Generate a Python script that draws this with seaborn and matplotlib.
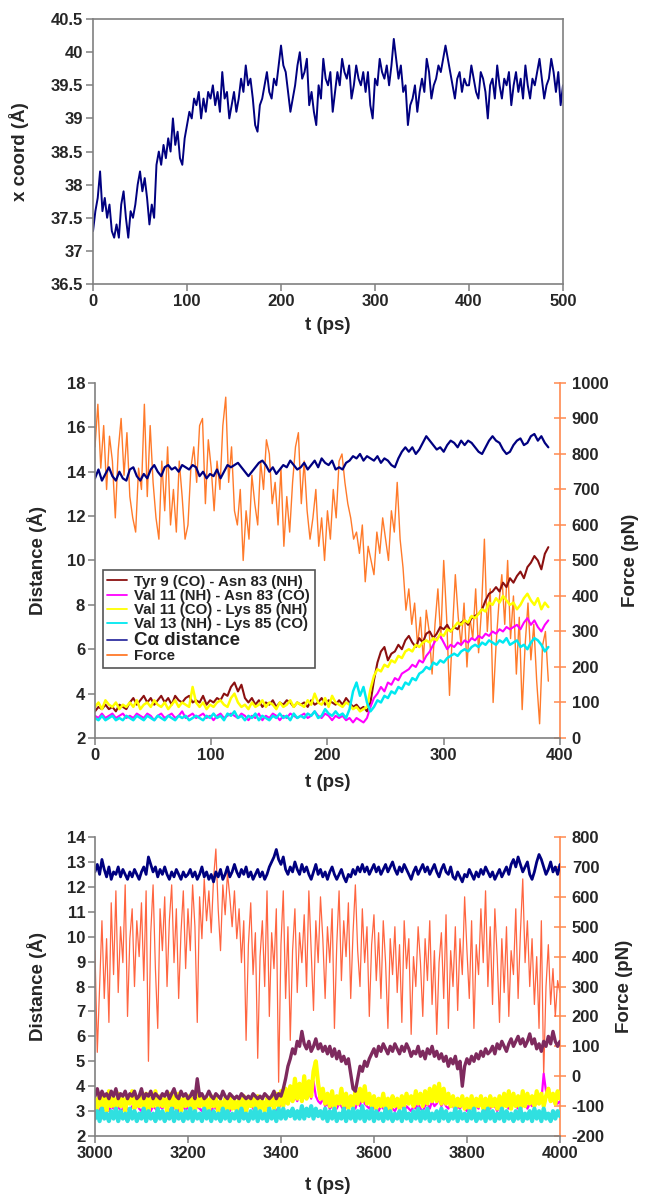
import numpy as np
import matplotlib
matplotlib.use('Agg')
import matplotlib.pyplot as plt
import seaborn as sns
from matplotlib.ticker import FuncFormatter, MultipleLocator
from matplotlib.lines import Line2D

# ---------------- Panel 1: x coordinate vs time (0-500 ps) ----------------
xcoord = [
    37.3, 37.6, 37.8, 38.2, 37.6, 37.8, 37.5, 37.7, 37.3, 37.2,
    37.4, 37.2, 37.7, 37.9, 37.5, 37.2, 37.6, 37.5, 37.7, 38.0,
    38.2, 37.9, 38.1, 37.8, 37.4, 37.7, 37.5, 38.3, 38.5, 38.3,
    38.6, 38.4, 38.7, 38.5, 39.0, 38.6, 38.8, 38.4, 38.3, 38.7,
    38.9, 39.1, 39.0, 39.3, 39.2, 39.4, 39.0, 39.3, 39.1, 39.4,
    39.3, 39.5, 39.2, 39.4, 39.1, 39.7, 39.3, 39.4, 39.0, 39.2,
    39.4, 39.1, 39.3, 39.6, 39.4, 39.8, 39.5, 39.6, 39.3, 38.9,
    38.8, 39.2, 39.3, 39.5, 39.7, 39.4, 39.3, 39.6, 39.5, 39.8,
    40.1, 39.8, 39.7, 39.4, 39.1, 39.3, 39.5, 39.8, 40.0, 39.6,
    39.7, 39.9, 39.2, 39.4, 39.1, 38.9, 39.5, 39.3, 39.9, 39.6,
    39.5, 39.7, 39.1, 39.4, 39.7, 39.5, 39.9, 39.7, 39.6, 39.8,
    39.3, 39.5, 39.8, 39.6, 39.5, 39.7, 39.4, 39.7, 39.2, 39.0,
    39.6, 39.5, 39.9, 39.7, 39.6, 39.8, 39.5, 39.8, 40.2, 39.9,
    39.6, 39.8, 39.4, 39.5, 38.9, 39.2, 39.3, 39.5, 39.1, 39.4,
    39.6, 39.4, 39.9, 39.7, 39.3, 39.5, 39.6, 39.8, 39.7, 39.9,
    40.1, 39.9, 39.7, 39.5, 39.3, 39.6, 39.7, 39.4, 39.6, 39.5,
    39.5, 39.8, 39.6, 39.4, 39.3, 39.7, 39.6, 39.4, 39.0, 39.5,
    39.6, 39.3, 39.8, 39.5, 39.3, 39.6, 39.5, 39.7, 39.2, 39.5,
    39.7, 39.4, 39.6, 39.3, 39.8, 39.5, 39.3, 39.6, 39.5, 39.7,
    39.9, 39.6, 39.3, 39.5, 39.6, 39.9, 39.7, 39.4, 39.7, 39.2,
    39.5]

# ---------------- Panel 2: 0-390 ps ----------------
p2_ca = [
    13.7, 14.1, 13.6, 13.9, 14.2, 13.8, 13.6, 14.0, 13.7, 13.6,
    14.1, 14.2, 13.8, 13.6, 13.9, 13.7, 14.1, 14.3, 14.0, 13.8,
    14.2, 14.3, 14.1, 14.2, 14.0, 14.3, 14.2, 14.1, 14.3, 14.2,
    13.8, 14.0, 13.7, 13.9, 13.8, 14.1, 13.7, 14.0, 14.3, 14.2,
    14.3, 14.4, 14.2, 14.0, 13.8, 14.0, 14.2, 14.4, 14.5, 14.3,
    14.0, 14.2, 13.9, 14.1, 14.3, 14.2, 14.5, 14.3, 14.1, 14.2,
    14.4, 14.1, 14.3, 14.5, 14.2, 14.6, 14.4, 14.3, 14.5, 14.1,
    14.2, 14.1, 14.4, 14.5, 14.7, 14.6, 14.8, 14.5, 14.7, 14.6,
    14.5, 14.7, 14.4, 14.6, 14.5, 14.3, 14.2, 14.6, 14.9, 15.1,
    14.9, 15.1, 14.8, 15.0, 15.3, 15.6, 15.4, 15.2, 15.0, 15.1,
    14.9, 15.2, 15.4, 15.3, 15.1, 15.4, 15.2, 15.4, 15.3, 15.1,
    14.9, 14.8, 15.1, 15.4, 15.6, 15.4, 15.3, 15.0, 14.8, 14.9,
    15.2, 15.4, 15.5, 15.2, 15.3, 15.6, 15.7, 15.4, 15.6, 15.3,
    15.1]

p2_tyr9 = [
    3.2, 3.4, 3.3, 3.5, 3.3, 3.4, 3.2, 3.5, 3.4, 3.3,
    3.6, 3.8, 3.5, 3.7, 3.9, 3.6, 3.8, 3.5, 3.7, 3.9,
    3.6, 3.8, 3.5, 3.9, 3.7, 3.6, 3.8, 3.9, 3.6, 3.7,
    3.6, 3.9, 3.5, 3.7, 3.6, 3.8, 3.7, 4.0, 3.9, 4.3,
    4.5, 4.1, 4.4, 3.8, 3.6, 3.8, 3.5, 3.7, 3.4, 3.6,
    3.5, 3.7, 3.4, 3.6, 3.5, 3.7, 3.6, 3.4, 3.6, 3.5,
    3.6, 3.4, 3.7, 3.5, 3.6, 3.8, 3.5, 3.7, 3.6, 3.5,
    3.7, 3.5, 3.8, 3.6, 3.4, 3.5, 3.3, 3.4, 3.2, 3.6,
    4.6, 5.4, 5.9, 6.1, 5.5, 5.8, 5.9, 6.2, 6.0, 6.4,
    6.6, 6.3, 6.1, 6.5, 6.3, 6.7, 6.8, 6.5, 6.7, 7.0,
    6.9, 7.1, 6.8, 7.0, 6.9, 7.2, 7.3, 7.1, 7.4, 7.5,
    7.6, 7.8, 8.2, 8.5, 8.6, 8.8, 8.6, 9.0, 8.8, 9.2,
    9.0, 9.3, 9.5, 9.2, 9.7, 9.9, 10.2, 10.0, 9.6, 10.3,
    10.6]

p2_val11nh = [
    3.0, 2.9, 3.1, 2.9, 3.0, 3.1, 2.9, 3.0, 3.1, 2.9,
    3.0, 2.9, 3.1, 3.0, 2.9, 3.1, 3.0, 2.8, 3.0, 3.1,
    2.9, 3.0, 3.1, 2.9, 3.0, 3.2, 2.9, 3.0, 3.1, 2.9,
    3.0, 3.1, 2.9, 3.0, 2.8, 3.0, 3.1, 2.9, 3.0, 3.1,
    3.0, 2.9, 3.1, 3.0, 2.8, 3.0, 2.9, 3.1, 2.8, 3.0,
    2.9, 3.1, 3.0, 2.8, 3.0, 2.9, 3.1, 3.0, 2.9, 3.0,
    3.1, 2.9, 3.0, 3.2, 3.0, 2.9, 3.1, 3.0, 2.8, 3.0,
    2.9, 3.0, 2.8, 2.9, 2.7, 2.9, 2.8, 2.7, 2.9, 3.4,
    3.8, 4.0, 4.3, 4.1, 4.5, 4.4, 4.7, 4.6, 4.9, 5.0,
    5.1, 5.3, 5.2, 5.5, 5.4, 5.7, 5.9, 6.2, 6.5, 6.6,
    6.3, 6.0, 6.2, 6.1, 6.3, 6.2, 6.4, 6.3, 6.5, 6.4,
    6.6, 6.5, 6.7, 6.6, 6.8, 6.7, 6.9, 6.8, 7.0, 6.9,
    7.0, 7.1, 6.9, 7.2, 7.4, 7.1, 7.3, 7.0, 6.8, 7.1,
    7.3]

p2_val11co = [
    3.4, 3.6, 3.3, 3.7, 3.5, 3.4, 3.6, 3.3, 3.5, 3.4,
    3.6, 3.4, 3.7, 3.3, 3.5, 3.6, 3.4, 3.7, 3.5, 3.4,
    3.6, 3.3, 3.5, 3.7, 3.4, 3.6, 3.5, 3.4, 4.3, 3.6,
    3.4, 3.6, 3.3, 3.5, 3.4, 3.6, 3.7, 3.5, 3.4, 3.8,
    4.0, 3.6, 3.4, 3.5, 3.3, 3.6, 3.4, 3.5, 3.7, 3.4,
    3.6, 3.5, 3.3, 3.6, 3.4, 3.5, 3.7, 3.4, 3.6, 3.5,
    3.4, 3.7, 3.5, 4.0, 3.6, 3.5, 3.8, 3.4, 3.9, 3.6,
    3.5, 3.4, 3.6, 3.5, 3.3, 3.4, 3.2, 3.3, 3.4, 4.2,
    4.8, 5.1, 5.0, 5.3, 5.2, 5.5, 5.4, 5.7, 5.6, 5.9,
    6.0, 5.9, 6.2, 6.1, 6.3, 6.4, 6.3, 6.5, 6.4, 6.7,
    6.6, 6.9, 6.8, 7.0, 7.2, 7.1, 7.3, 7.2, 7.5, 7.4,
    7.6, 7.8, 7.7, 8.1, 8.0, 8.3, 8.1, 8.4, 8.2, 8.0,
    8.1, 7.8, 8.0, 8.3, 8.5, 8.2, 8.0, 8.3, 7.8, 8.1,
    7.9]

p2_val13 = [
    2.9, 2.8, 3.0, 2.8, 2.9, 3.0, 2.8, 2.9, 2.8, 3.0,
    2.9, 2.8, 3.0, 2.9, 2.8, 3.0, 2.9, 2.8, 3.0, 2.9,
    2.8, 3.0, 2.9, 2.8, 3.0, 2.9, 3.0, 2.8, 2.9, 3.0,
    2.9, 2.8, 3.0, 2.9, 3.1, 2.9, 3.0, 2.8, 3.1, 3.0,
    3.2, 2.9, 3.0, 2.8, 3.0, 2.9, 3.1, 2.8, 3.0, 2.9,
    2.8, 3.0, 2.9, 3.1, 2.9, 3.0, 2.8, 3.1, 2.9, 3.0,
    2.9, 3.1, 3.0, 3.2, 2.9, 3.0, 3.3, 3.1, 3.0, 3.2,
    3.0, 3.1, 2.9, 3.3, 4.1, 4.5, 3.9, 4.3, 3.6, 3.2,
    3.4, 3.7, 3.6, 3.9, 3.8, 4.1, 4.0, 4.3, 4.2, 4.5,
    4.4, 4.7, 4.6, 4.9, 5.0, 5.2, 5.1, 5.4, 5.3, 5.5,
    5.4, 5.6, 5.7, 5.8, 5.7, 5.9, 6.0, 5.9, 6.1, 6.2,
    6.1, 6.3, 6.2, 6.4, 6.3, 6.2, 6.4, 6.3, 6.5, 6.2,
    6.3, 6.4, 6.1, 6.2, 6.0, 6.3, 6.5, 6.4, 6.2, 5.9,
    6.1]

p2_force = [
    820, 940, 760, 880, 700, 850, 780, 620, 810, 900,
    740, 860, 680, 620, 580, 760, 700, 940, 680, 880,
    720, 620, 560, 780, 640, 820, 600, 700, 580, 780,
    680, 560, 600, 760, 820, 720, 880, 900, 660, 840,
    760, 640, 780, 700, 880, 960, 720, 820, 640, 600,
    700, 500, 640, 560, 740, 660, 600, 780, 700, 840,
    800, 660, 720, 600, 760, 540, 680, 580, 720, 820,
    860, 660, 780, 640, 560, 620, 700, 540, 620, 500,
    640, 560, 700, 620, 780, 800, 720, 660, 620, 560,
    580, 520, 600, 440, 540, 500, 460, 580, 520, 620,
    560, 500, 640, 580, 720, 560, 480, 360, 420, 320,
    380, 260, 340, 220, 360, 300, 180, 320, 420, 280,
    500, 340, 120, 300, 460, 340, 260, 380, 200, 340,
    280, 420, 240, 360, 560, 300, 420, 100, 260, 380,
    460, 320, 500, 280, 400, 180, 340, 80, 260, 380,
    220, 320, 160, 40, 260, 300, 160]

p2_labels = ["Tyr 9 (CO) - Asn 83 (NH)", "Val 11 (NH) - Asn 83 (CO)",
             "Val 11 (CO) - Lys 85 (NH)", "Val 13 (NH) - Lys 85 (CO)",
             "C\u03b1 distance", "Force"]

# ---------------- Panel 3: 3000-4000 ps ----------------
p3_ca = [
    12.6, 12.9, 12.5, 13.1, 12.7, 12.4, 12.8, 12.3, 12.6, 12.5,
    12.8, 12.4, 12.7, 12.5, 12.3, 12.6, 12.4, 12.7, 12.5, 12.3,
    12.6, 12.8, 12.5, 13.2, 12.9, 12.6, 12.8, 12.4, 12.7, 12.5,
    12.8, 12.5, 12.3, 12.6, 12.4, 12.7, 12.5, 12.3, 12.6, 12.4,
    12.5, 12.7, 12.4, 12.6, 12.3, 12.5, 12.8, 12.4, 12.6, 12.3,
    12.5, 12.2, 12.6, 12.4, 12.7, 12.3, 12.5, 12.8, 12.4, 12.6,
    12.9, 12.6, 12.4, 12.7, 12.5, 12.8, 12.4, 12.6, 12.3, 12.5,
    12.7, 12.4, 12.6, 12.3, 12.5, 12.8, 13.0, 13.2, 13.5, 13.1,
    12.9, 13.2, 12.7, 12.5, 12.8, 12.6, 13.0, 12.7, 12.5, 12.9,
    12.6, 12.8, 12.5, 12.3, 12.6, 12.9, 12.5, 12.7, 12.4, 12.6,
    12.3, 12.6, 12.8, 12.5, 12.3, 12.5, 12.7, 12.4, 12.2, 12.5,
    12.4, 12.7, 12.5, 12.8, 12.6, 12.9, 12.6, 12.8, 12.5, 12.7,
    12.9, 12.6, 12.8, 12.5, 12.7, 12.9, 12.6, 12.8, 13.0, 12.7,
    12.5, 12.8, 12.6, 12.9, 12.7, 12.5, 12.3, 12.6, 12.8, 12.5,
    12.7, 12.9, 12.6, 12.8, 12.5, 12.7, 12.9, 12.6, 12.4, 12.7,
    12.9, 12.6, 12.5, 12.8, 12.4, 12.3, 12.6, 12.4, 12.2, 12.5,
    12.4, 12.7, 12.5, 12.3, 12.6, 12.4, 12.7, 12.5, 12.8, 12.6,
    12.4, 12.6, 12.3, 12.5, 12.7, 12.4, 12.6, 12.8, 12.5, 12.9,
    13.1, 12.8, 13.2, 12.9, 12.6, 12.8, 13.0, 12.5, 12.3, 12.6,
    13.0, 13.3, 13.1, 12.8, 12.5, 12.7, 13.0, 12.6, 12.8, 12.5,
    12.9]

p3_force = [
    420, 80, 300, 520, 260, 460, 180, 580, 340, 620,
    280, 500, 380, 640, 200, 460, 560, 300, 520, 400,
    580, 320, 620, 50, 480, 640, 360, 160, 560, 420,
    600, 300, 520, 640, 380, 560, 260, 480, 620, 360,
    560, 420, 640, 500, 180, 600, 460, 660, 520, 620,
    480, 660, 760, 560, 420, 640, 540, 680, 600, 500,
    620, 460, 560, 380, 520, 120, 440, 580, 340, 480,
    60, 400, 520, 300, 620, 200, 480, 360, 560, -20,
    440, 620, 260, 500, 120, 420, 560, 280, 480, 380,
    540, 300, 620, 420, 220, 520, 380, 600, 460, 260,
    500, 380, 560, 160, 440, 620, 320, 520, 400, 580,
    260, 480, 640, 420, 300, 560, 380, 500, 200, 440,
    540, 320, 480, 260, 520, 380, 160, 460, 340, 500,
    280, 440, 180, 520, 360, 460, 140, 400, 300, 500,
    380, 200, 460, 320, 520, 240, 420, 140, 380, 480,
    260, 540, 160, 420, 300, 500, 220, 460, 340, 600,
    420, 260, 520, 160, 440, 340, 560, 380, 620, 300,
    500, 240, 560, 400, 180, 460, 280, 500, 200, 420,
    340, 560, 260, 480, 660, 380, 520, 300, 460, 240,
    400, 160, 520, 0, 300, 440, 240, 360, 200, 320,
    280]

p3_tyr9 = [
    3.6, 3.9, 3.5, 3.8, 3.6, 3.7, 3.5, 3.8, 3.6, 3.9,
    3.5, 3.7, 3.6, 3.8, 3.5, 3.7, 3.6, 3.8, 3.5, 3.6,
    3.9, 3.5, 3.7, 3.6, 3.8, 3.5, 3.7, 3.6, 3.5, 3.7,
    3.6, 3.8, 3.5, 3.7, 3.9, 3.6, 3.5, 3.8, 3.6, 3.7,
    3.5, 3.6, 3.8, 3.5, 4.3, 3.6, 3.7, 3.5, 3.6, 3.8,
    3.6, 3.5, 3.7, 3.6, 3.5, 3.8, 3.6, 3.5, 3.7, 3.6,
    3.5, 3.6, 3.5, 3.7, 3.6, 3.5, 3.6, 3.5, 3.7, 3.6,
    3.5, 3.6, 3.5, 3.7, 3.6, 3.5, 3.6, 3.8, 3.5, 3.7,
    3.6, 3.9, 4.3, 4.8, 5.1, 5.5, 5.3, 5.8, 5.6, 6.2,
    5.7, 5.5, 5.8, 5.4, 5.6, 5.9, 5.5, 5.7, 5.4, 5.6,
    5.3, 5.6, 5.2, 5.5, 5.1, 5.4, 5.0, 5.2, 4.9, 5.1,
    4.5, 3.9, 3.8, 4.3, 4.8, 4.6, 5.0, 4.8, 5.1, 5.3,
    5.5, 5.2, 5.6, 5.4, 5.7, 5.5, 5.3, 5.6, 5.4, 5.7,
    5.5, 5.3, 5.6, 5.4, 5.7, 5.5, 5.2, 5.4, 5.3, 5.6,
    5.2, 5.4, 5.1, 5.5, 5.3, 5.6, 5.2, 5.4, 5.1, 5.3,
    5.0, 5.2, 4.8, 5.1, 4.9, 5.2, 4.7, 5.0, 4.0, 4.8,
    5.1, 4.9, 5.2, 5.0, 5.3, 5.1, 5.4, 5.2, 5.5, 5.3,
    5.4, 5.6, 5.3, 5.7, 5.5, 5.8, 5.6, 5.4, 5.7, 5.9,
    5.6, 5.8, 6.0, 5.7, 5.9, 5.6, 5.8, 6.1, 5.7, 5.9,
    5.5, 5.7, 5.4, 5.8, 5.6, 6.0, 5.7, 6.2, 5.8, 5.6,
    5.8]

p3_val11nh = [
    3.1, 3.2, 3.0, 3.3, 3.1, 3.2, 3.0, 3.2, 3.1, 3.3,
    3.2, 3.0, 3.1, 3.3, 3.1, 3.0, 3.2, 3.1, 3.3, 3.1,
    3.0, 3.2, 3.1, 3.3, 3.0, 3.2, 3.1, 3.0, 3.2, 3.1,
    3.3, 3.1, 3.0, 3.2, 3.1, 3.3, 3.0, 3.1, 3.2, 3.0,
    3.2, 3.1, 3.3, 3.0, 3.2, 3.1, 3.0, 3.3, 3.1, 3.2,
    3.0, 3.2, 3.1, 3.3, 3.1, 3.0, 3.2, 3.1, 3.0, 3.2,
    3.1, 3.3, 3.0, 3.2, 3.1, 3.0, 3.2, 3.3, 3.1, 3.0,
    3.2, 3.1, 3.3, 3.0, 3.2, 3.1, 3.3, 3.2, 3.0, 3.1,
    3.3, 3.2, 3.4, 3.3, 3.5, 3.4, 3.6, 3.4, 3.7, 3.5,
    3.9, 3.6, 3.8, 3.5, 4.2, 3.6, 3.4, 3.3, 3.5, 3.2,
    3.3, 3.1, 3.2, 3.4, 3.1, 3.3, 3.2, 3.0, 3.2, 3.1,
    3.3, 3.2, 3.1, 3.4, 3.2, 3.6, 3.3, 3.2, 3.1, 3.3,
    3.1, 3.2, 3.0, 3.2, 3.1, 3.3, 3.0, 3.2, 3.1, 3.0,
    3.2, 3.1, 3.3, 3.0, 3.2, 3.1, 3.0, 3.2, 3.1, 3.3,
    3.1, 3.0, 3.2, 3.3, 3.1, 3.4, 3.2, 3.3, 3.5, 3.2,
    3.4, 3.2, 3.1, 3.3, 3.2, 3.0, 3.2, 3.1, 3.3, 3.1,
    3.0, 3.2, 3.1, 3.3, 3.2, 3.1, 3.6, 3.2, 3.0, 3.2,
    3.1, 3.3, 3.2, 3.0, 3.2, 3.1, 3.3, 3.2, 3.1, 3.2,
    3.4, 3.2, 3.1, 3.3, 3.2, 3.4, 3.1, 3.3, 3.2, 3.5,
    3.3, 3.6, 3.4, 4.5, 3.8, 3.9, 3.5, 3.4, 3.6, 3.3,
    3.4]

p3_val11co = [
    3.5, 3.1, 3.7, 3.2, 3.6, 3.0, 3.8, 3.2, 3.5, 3.1,
    3.7, 3.2, 3.5, 3.0, 3.6, 3.3, 3.8, 3.1, 3.5, 3.2,
    3.6, 3.1, 3.7, 3.0, 3.5, 3.2, 3.8, 3.1, 3.6, 3.2,
    3.5, 3.0, 3.7, 3.2, 3.6, 3.1, 3.7, 3.0, 3.5, 3.2,
    3.6, 3.1, 3.5, 3.0, 3.7, 3.2, 3.6, 3.1, 3.5, 3.0,
    3.6, 3.2, 3.5, 3.0, 3.4, 3.1, 3.5, 3.0, 3.6, 3.1,
    3.4, 3.0, 3.5, 3.1, 3.6, 3.0, 3.4, 3.2, 3.5, 3.0,
    3.6, 3.1, 3.4, 3.0, 3.5, 3.2, 3.6, 3.1, 3.7, 3.2,
    3.8, 3.2, 3.9, 3.3, 4.0, 3.4, 4.3, 3.5, 4.1, 3.4,
    4.4, 3.5, 4.2, 3.6, 4.6, 5.0, 4.1, 3.5, 3.9, 3.3,
    3.7, 3.2, 3.8, 3.1, 3.6, 3.3, 3.9, 3.2, 3.7, 3.1,
    3.6, 3.2, 3.8, 3.3, 3.9, 3.4, 4.0, 3.3, 3.7, 3.2,
    3.6, 3.1, 3.5, 3.2, 3.7, 3.1, 3.5, 3.0, 3.6, 3.2,
    3.5, 3.1, 3.6, 3.2, 3.7, 3.3, 3.6, 3.2, 3.8, 3.3,
    3.7, 3.2, 3.8, 3.3, 3.9, 3.4, 4.0, 3.4, 4.1, 3.3,
    3.9, 3.3, 3.7, 3.2, 3.6, 3.1, 3.5, 3.2, 3.6, 3.1,
    3.5, 3.1, 3.6, 3.0, 3.5, 3.2, 3.6, 3.1, 3.5, 3.0,
    3.6, 3.2, 3.5, 3.1, 3.6, 3.0, 3.7, 3.2, 3.8, 3.1,
    3.7, 3.2, 3.6, 3.1, 3.8, 3.2, 3.7, 3.3, 3.6, 3.2,
    3.8, 3.3, 3.7, 3.2, 3.6, 3.9, 3.4, 3.7, 3.3, 3.8,
    3.5]

p3_val13 = [
    2.7, 3.0, 2.6, 3.1, 2.7, 2.9, 2.6, 3.0, 2.7, 3.1,
    2.6, 3.0, 2.7, 2.9, 2.6, 3.1, 2.7, 3.0, 2.6, 2.9,
    2.7, 3.1, 2.6, 3.0, 2.7, 2.9, 2.6, 3.1, 2.7, 3.0,
    2.6, 2.9, 2.7, 3.1, 2.6, 3.0, 2.7, 2.9, 2.6, 3.0,
    2.7, 3.1, 2.6, 3.0, 2.7, 2.9, 2.6, 3.1, 2.7, 3.0,
    2.6, 3.0, 2.7, 2.9, 2.6, 3.1, 2.7, 3.0, 2.6, 2.9,
    2.7, 3.0, 2.6, 3.1, 2.7, 2.9, 2.6, 3.0, 2.7, 3.1,
    2.6, 3.0, 2.7, 2.9, 2.6, 3.1, 2.7, 3.0, 2.6, 3.1,
    2.7, 3.1, 2.7, 3.0, 2.8, 3.1, 2.7, 3.0, 2.7, 3.2,
    2.7, 3.1, 2.8, 3.2, 2.7, 3.1, 2.8, 3.0, 2.7, 3.1,
    2.6, 3.0, 2.7, 3.1, 2.6, 2.9, 2.7, 3.1, 2.6, 3.0,
    2.7, 3.1, 2.6, 3.0, 2.7, 3.2, 2.6, 3.0, 2.7, 3.1,
    2.6, 3.0, 2.7, 2.9, 2.6, 3.1, 2.7, 3.0, 2.6, 2.9,
    2.7, 3.0, 2.6, 3.1, 2.7, 2.9, 2.6, 3.0, 2.7, 3.1,
    2.6, 3.0, 2.7, 3.1, 2.6, 2.9, 2.7, 3.0, 2.6, 3.1,
    2.7, 3.0, 2.6, 2.9, 2.7, 3.1, 2.6, 3.0, 2.7, 2.9,
    2.6, 3.0, 2.7, 3.1, 2.6, 2.9, 2.7, 3.0, 2.6, 3.1,
    2.7, 3.0, 2.6, 2.9, 2.7, 3.1, 2.6, 3.0, 2.7, 2.9,
    2.6, 3.0, 2.7, 3.1, 2.6, 2.9, 2.7, 3.0, 2.6, 3.1,
    2.7, 3.0, 2.6, 3.1, 2.7, 2.9, 2.6, 3.0, 2.7, 3.0,
    2.8]


def tgrid(t0, t1, vals):
    return np.linspace(t0, t1, len(vals))


# ---------------- Style ----------------
sns.set_theme(style='white')
plt.rcParams['font.family'] = ['Liberation Sans', 'DejaVu Sans']
plt.rcParams['font.weight'] = 'bold'
plt.rcParams['axes.labelweight'] = 'bold'

GREY = '#808080'
NAVY = '#000080'
ORANGE_SPINE = '#FF8A50'
TICK_FS = 12
LABEL_FS = 13.5
fmt = FuncFormatter(lambda v, p: '%g' % v)

fig = plt.figure(figsize=(6.46, 11.99), dpi=100)


def style_left(ax):
    for s in ['left', 'bottom', 'top', 'right']:
        ax.spines[s].set_color(GREY)
        ax.spines[s].set_linewidth(1.2)
    ax.tick_params(axis='both', which='major', direction='out', length=5,
                   width=1.1, color=GREY, labelsize=TICK_FS, pad=2,
                   bottom=True, left=True)
    for lab in ax.get_xticklabels() + ax.get_yticklabels():
        lab.set_fontweight('bold')
    ax.yaxis.set_major_formatter(fmt)


def draw(ax, t0, t1, vals, color, lw):
    sns.lineplot(x=tgrid(t0, t1, vals), y=vals, ax=ax, color=color,
                 lw=lw, estimator=None, sort=False, legend=False)


# ---------- Panel 1 ----------
ax1 = fig.add_axes([0.144, 0.7631, 0.7275, 0.2210])
draw(ax1, 0, 500, xcoord, NAVY, 1.4)
ax1.set_xlim(0, 500)
ax1.set_ylim(36.5, 40.5)
ax1.xaxis.set_major_locator(MultipleLocator(100))
ax1.yaxis.set_major_locator(MultipleLocator(0.5))
style_left(ax1)
ax1.set_xlabel('t (ps)', fontsize=LABEL_FS, fontweight='bold', labelpad=6)
ax1.set_ylabel('x coord (\u00c5)', fontsize=LABEL_FS, fontweight='bold', labelpad=16)


def style_right(axr):
    for s in ['left', 'bottom', 'top']:
        axr.spines[s].set_visible(False)
    axr.spines['right'].set_color(ORANGE_SPINE)
    axr.spines['right'].set_linewidth(1.2)
    axr.tick_params(axis='y', which='major', direction='inout', length=9,
                    width=1.1, color=ORANGE_SPINE, labelsize=TICK_FS, pad=4,
                    right=True, left=False)
    for lab in axr.get_yticklabels():
        lab.set_fontweight('bold')
    axr.yaxis.set_major_formatter(fmt)


# ---------- Panel 2 ----------
ax2 = fig.add_axes([0.147, 0.3845, 0.7198, 0.2961])
ax2r = ax2.twinx()
draw(ax2r, 0, 390, p2_force, '#FF7A2A', 1.0)
draw(ax2, 0, 390, p2_tyr9, '#8B1010', 1.5)
draw(ax2, 0, 390, p2_val11nh, '#FF00FF', 1.5)
draw(ax2, 0, 390, p2_val11co, '#FFFF00', 1.8)
draw(ax2, 0, 390, p2_val13, '#00E8F0', 1.8)
draw(ax2, 0, 390, p2_ca, NAVY, 1.6)
ax2.set_zorder(ax2r.get_zorder() + 1)
ax2.patch.set_visible(False)
ax2.set_xlim(0, 400)
ax2.set_ylim(2, 18)
ax2r.set_ylim(0, 1000)
ax2.xaxis.set_major_locator(MultipleLocator(100))
ax2.yaxis.set_major_locator(MultipleLocator(2))
ax2r.yaxis.set_major_locator(MultipleLocator(100))
style_left(ax2)
ax2.spines['top'].set_visible(False)
ax2.spines['right'].set_visible(False)
style_right(ax2r)
ax2.set_xlabel('t (ps)', fontsize=LABEL_FS, fontweight='bold', labelpad=8)
ax2.set_ylabel('Distance (\u00c5)', fontsize=LABEL_FS, fontweight='bold', labelpad=14)
ax2r.set_ylabel('Force (pN)', fontsize=LABEL_FS, fontweight='bold', labelpad=10)

leg_colors = ['#8B1010', '#FF00FF', '#FFFF00', '#00E8F0', '#3030A0', '#FF7A2A']
handles = [Line2D([], [], color=c, lw=1.3) for c in leg_colors]
leg = ax2.legend(handles, p2_labels, loc='upper left',
                 bbox_to_anchor=(0.017, 0.473), fontsize=10.8,
                 frameon=True, fancybox=False, framealpha=1,
                 edgecolor='#555555', handlelength=1.3, handletextpad=0.5,
                 labelspacing=0.02, borderpad=0.3, borderaxespad=0)
leg.get_frame().set_linewidth(1.2)
for txt in leg.get_texts():
    txt.set_fontweight('bold')
    txt.set_color('#222222')
leg.get_texts()[4].set_fontsize(13.5)

# ---------- Panel 3 ----------
ax3 = fig.add_axes([0.147, 0.0525, 0.7198, 0.2494])
ax3r = ax3.twinx()
draw(ax3r, 3000, 4000, p3_force, '#FF6540', 0.9)
draw(ax3, 3000, 4000, p3_val11nh, '#FF00FF', 1.6)
draw(ax3, 3000, 4000, p3_val11co, '#FFFF00', 3.0)
draw(ax3, 3000, 4000, p3_tyr9, '#7E2A5E', 2.4)
draw(ax3, 3000, 4000, p3_val13, '#30E0E0', 3.0)
draw(ax3, 3000, 4000, p3_ca, NAVY, 2.0)
ax3.set_zorder(ax3r.get_zorder() + 1)
ax3.patch.set_visible(False)
ax3.set_xlim(3000, 4000)
ax3.set_ylim(2, 14)
ax3r.set_ylim(-200, 800)
ax3.xaxis.set_major_locator(MultipleLocator(200))
ax3.yaxis.set_major_locator(MultipleLocator(1))
ax3r.yaxis.set_major_locator(MultipleLocator(100))
style_left(ax3)
ax3.spines['top'].set_visible(False)
ax3.spines['right'].set_visible(False)
style_right(ax3r)
ax3.set_xlabel('t (ps)', fontsize=LABEL_FS, fontweight='bold', labelpad=12)
ax3.set_ylabel('Distance (\u00c5)', fontsize=LABEL_FS, fontweight='bold', labelpad=14)
ax3r.set_ylabel('Force (pN)', fontsize=LABEL_FS, fontweight='bold', labelpad=8)

fig.savefig('out.png', dpi=100)
